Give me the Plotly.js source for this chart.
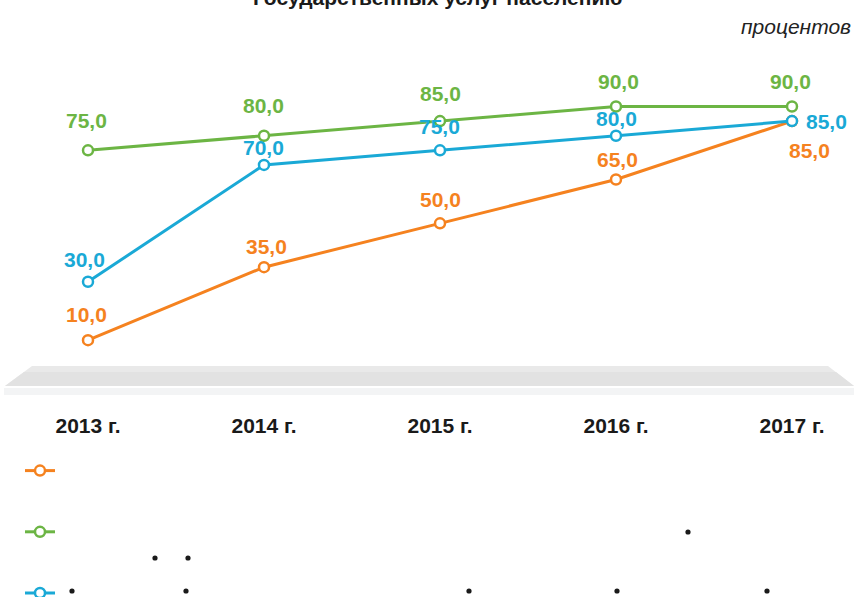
<!DOCTYPE html>
<html>
<head>
<meta charset="utf-8">
<script src="https://cdn.plot.ly/plotly-3.0.1.min.js"></script>
<style>html,body{margin:0;padding:0;background:#fff;}#chart{width:854px;height:597px;}</style>
</head>
<body>
<div id="chart"></div>
<script>
// ---- data ----
const years = ['2013 г.', '2014 г.', '2015 г.', '2016 г.', '2017 г.'];
const seriesOrange = [10, 35, 50, 65, 85];
const seriesGreen  = [75, 80, 85, 90, 90];
const seriesBlue   = [30, 70, 75, 80, 85];
const titleText = 'Государственных услуг населению';
const unitText = 'процентов';

// ---- styles ----
const C_OR = '#f5821f', C_GR = '#6cb544', C_BL = '#1aa9d6';
const W = 854, H = 597, T = 60, B = 390; // plot area pixels
const PH = B - T;
const py = p => (B - p) / PH;       // pixel y -> paper y
const px = p => p / W;              // pixel x -> paper x
const fmt = v => v.toFixed(1).replace('.', ',');
const idx = years.map((_, i) => i);

function trace(vals, color) {
  return {
    x: idx, y: vals, type: 'scatter', mode: 'lines+markers', name: ' ',
    line: {color: color, width: 3},
    marker: {symbol: 'circle', size: 10, color: '#ffffff', line: {color: color, width: 2.5}},
    hoverinfo: 'skip', cliponaxis: false
  };
}
const data = [
  Object.assign(trace(seriesOrange, C_OR), {legendgroup: 'a'}),
  Object.assign(trace(seriesGreen, C_GR), {legendgroup: 'b'}),
  Object.assign(trace(seriesBlue, C_BL), {legendgroup: 'c'})
];

const labelFont = (c) => ({family: 'Liberation Sans, Arial, sans-serif', size: 21, color: c, weight: 'bold'});
const annotations = [];
function addLabels(vals, color, shifts) {
  vals.forEach((v, i) => {
    const s = shifts[i];
    annotations.push({
      x: i, y: v, xref: 'x', yref: 'y', text: '<b>' + fmt(v) + '</b>', showarrow: false,
      xanchor: 'center', yanchor: 'middle', xshift: s[0], yshift: s[1], font: labelFont(color)
    });
  });
}
addLabels(seriesGreen, C_GR, [[-2,30],[-1,30],[0,28],[2,25],[-2,25]]);
addLabels(seriesBlue, C_BL, [[-4,22],[-1,17],[-1,24],[0,17],[34,0]]);
addLabels(seriesOrange, C_OR, [[-2,26],[2,21],[0,24],[1,20],[17,-29]]);

annotations.push({
  xref: 'paper', yref: 'paper', x: px(437), y: py(-3), xanchor: 'center', yanchor: 'middle',
  text: '<b>' + titleText + '</b>', showarrow: false,
  font: {family: 'Liberation Sans, Arial, sans-serif', size: 21, color: '#1a1a1a'}
});
annotations.push({
  xref: 'paper', yref: 'paper', x: px(853), y: py(27), xanchor: 'right', yanchor: 'middle',
  text: '<i>' + unitText + '</i>', showarrow: false,
  font: {family: 'Liberation Sans, Arial, sans-serif', size: 21, color: '#222222'}
});

const shapes = [
  {type: 'path', xref: 'paper', yref: 'paper', layer: 'below',
   path: `M ${px(32)} ${py(366)} L ${px(828)} ${py(366)} L ${px(854)} ${py(386)} L ${px(5)} ${py(386)} Z`,
   fillcolor: '#e9e9e9', line: {width: 0}},
  {type: 'path', xref: 'paper', yref: 'paper', layer: 'below',
   path: `M ${px(24)} ${py(372)} L ${px(836)} ${py(372)} L ${px(854)} ${py(386)} L ${px(5)} ${py(386)} Z`,
   fillcolor: '#e2e2e2', line: {width: 0}},
  {type: 'rect', xref: 'paper', yref: 'paper', layer: 'below',
   x0: px(4), x1: px(854), y0: py(388), y1: py(395), fillcolor: '#f3f4f5', line: {width: 0}}
];
const dots = [[155,558],[188,558],[72,591],[186,591],[688,532],[469,591],[617,591],[767,591]];
dots.forEach(d => shapes.push({
  type: 'circle', xref: 'paper', yref: 'paper',
  x0: px(d[0]-2.6), x1: px(d[0]+2.6), y0: py(d[1]+2.6), y1: py(d[1]-2.6),
  fillcolor: '#1a1a1a', line: {width: 0}
}));

const layout = {
  width: W, height: H,
  margin: {l: 0, r: 0, t: T, b: H - B, pad: 0, autoexpand: false},
  paper_bgcolor: '#ffffff', plot_bgcolor: 'rgba(0,0,0,0)',
  showlegend: true,
  legend: {x: px(20), y: py(455), xanchor: 'left', yanchor: 'top', tracegroupgap: 40,
           font: {size: 14, color: '#ffffff'}, bgcolor: 'rgba(0,0,0,0)'},
  xaxis: {
    range: [-0.5, (W - 88) / 176], tickmode: 'array', tickvals: idx, ticktext: years,
    showgrid: false, zeroline: false, showline: false, ticks: '', ticklabelstandoff: 21,
    tickfont: {family: 'Liberation Sans, Arial, sans-serif', size: 21, color: '#1a1a1a', weight: 'bold'},
    fixedrange: true, automargin: false
  },
  yaxis: {range: [-7.05, 105.92], visible: false, fixedrange: true},
  annotations: annotations,
  shapes: shapes
};
Plotly.newPlot('chart', data, layout, {displayModeBar: false, staticPlot: true});
</script>
</body>
</html>
